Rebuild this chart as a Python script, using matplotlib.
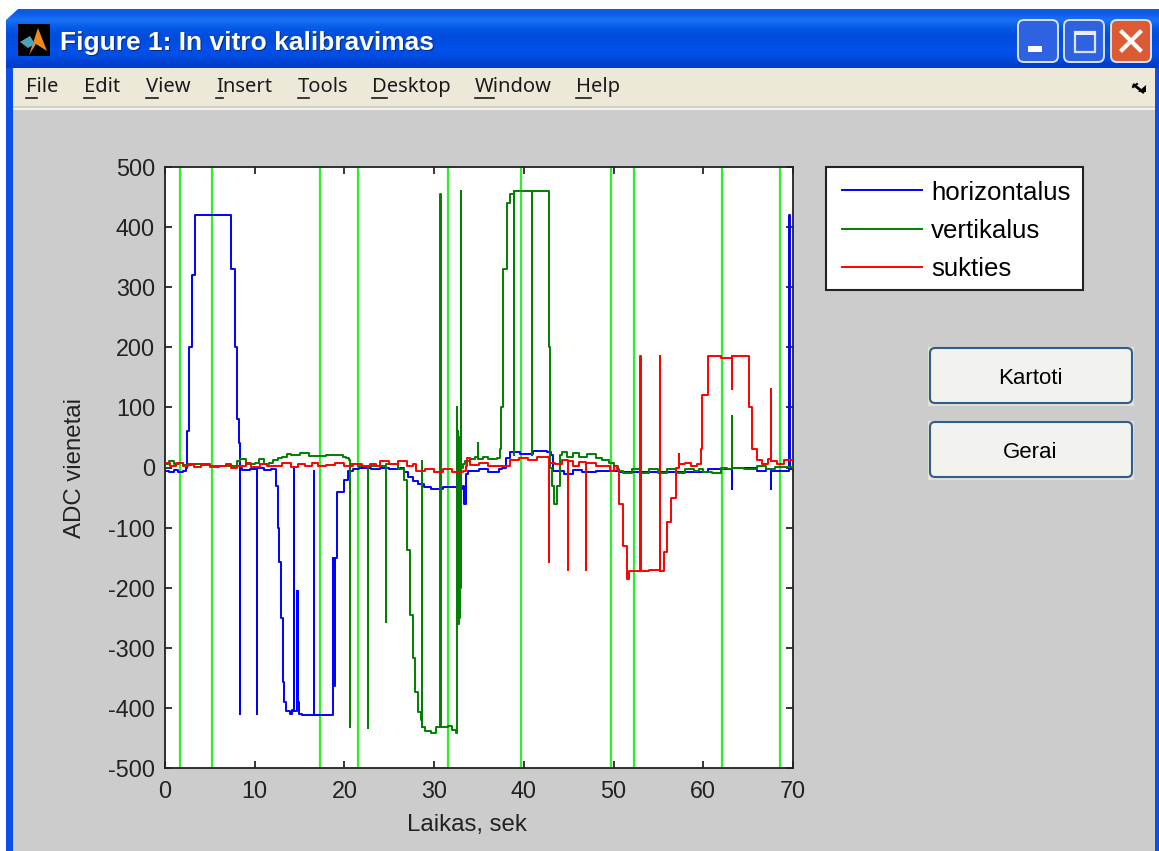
import numpy as np
import matplotlib
matplotlib.use("Agg")
import matplotlib.pyplot as plt
from matplotlib.patches import Rectangle, FancyBboxPatch, Polygon
from matplotlib.lines import Line2D

plt.rcParams["axes.unicode_minus"] = False
W, H = 1159, 851
# ---------------- data: (seconds, ADC units) ----------------
marker_times = [1.7, 5.2, 17.3, 21.5, 31.5, 39.7, 49.7, 52.3, 62.1, 68.6]
horizontal = [(0,-5),(0.5,-8),(1,-4),(1.5,-8),(2,-5),(2.2,-5),(2.3,0),(2.5,60),(2.7,200),(3.0,320),(3.3,420),(7.1,420),(7.4,330),(7.8,200),(8.0,80),(8.2,40),
    (8.4,5),(8.4,-410),(8.41,0),(8.6,-4),(9.5,-3),(10.3,-2),(10.3,-410),(10.31,0),(11,-4),(11.8,-2),(12.3,-2),(12.4,-30),(12.6,-100),(12.7,-157),(12.9,-250),
    (13.1,-357),(13.3,-390),(13.5,-405),(13.9,-410),(14.2,-403),(14.4,-405),(14.4,0),(14.41,-405),(14.7,-405),(14.7,-205),(14.75,-390),(14.8,-205),(14.85,-390),(14.9,-410),(15.3,-411),
    (16.6,-411),(16.6,-5),(16.61,-411),(18.6,-411),(18.7,-150),(18.75,-363),(18.8,-150),(18.85,-363),(18.9,-150),(19.1,-150),(19.2,-40),(19.9,-37),(20.0,-20),
    (20.4,-5),(20.9,-3),(21.6,-1),(23,-3),(24.0,-1),(25,-2),(26.2,0),(26.6,-8),(27.1,-15),(27.6,-22),(28.2,-28),(28.9,-33),(29.6,-35),(31,-33),(33.0,-35),(33.2,-30),
    (33.3,-60),(33.5,-10),(33.8,-5),(35,-2),(36,-7),(37.2,-2),(37.6,0),(38.0,15),(38.4,25),(39.6,22),(41,27),(42.6,25),(43.0,20),(43.3,-5),(44.5,-10),(45.5,-4),(46.5,-8),(48,-5),(50.0,-5),(50.6,-8),(59.4,-8),
    (60.5,-3),(63.2,-2),(63.2,-35),(63.21,0),(66,-5),(67,-2),(67.5,-5),(67.5,-35),(67.51,-5),(69.5,-3),(69.6,420),(69.62,-3),(70,-3)]
vertical = [(0,6),(0.5,10),(1,5),(1.6,7),(2,4),(3,5),(5,2),(6.5,3),(7.5,3),(8,10),(8.4,14),(9,6),(10,8),(10.5,14),(11,6),(11.6,8),(12,12),(12.6,16),(13,17),(13.6,22),(14,20),(15,24),(16,19),(18,20),(19.8,18),(20.2,15),(20.5,12),(20.6,10),(20.6,-432),(20.61,5),
    (21.5,2),(22.6,0),(22.6,-433),(22.61,2),(24.6,3),(24.6,-257),(24.61,5),(26,-3),(26.6,-20),(27,-137),(27.3,-245),(27.6,-317),(27.9,-374),
    (28.2,-406),(28.5,-420),(28.6,-432),(28.6,10),(28.61,-432),(29,-438),(29.6,-441),(30.2,-432),(30.7,-432),(30.7,455),(30.71,-432),
    (31.5,-430),(32,-436),(32.4,-441),(32.5,-300),(32.55,-260),(32.55,100),(32.6,-260),(32.65,60),(32.7,-260),(32.75,50),(32.8,-250),(32.85,0),(32.9,-200),(33,460),(33.01,0),(33.2,5),(33.4,10),
    (34,14),(34.6,18),(34.9,14),(34.9,40),(34.91,14),(35.5,18),(36,14),(37,15),(37.3,30),(37.5,100),(37.7,330),(38.1,440),(38.5,455),(38.9,460),(38.9,20),(38.91,460),
    (40.9,460),(40.9,20),(40.91,460),(42.5,460),(42.8,200),(42.9,0),(43.1,-30),(43.4,-60),(43.7,-30),(44.0,20),(44.2,25),(44.8,18),(45.5,24),(46.2,18),(47,22),(48,16),(48.7,12),
    (49.5,8),(50.1,2),(50.5,-5),(51,-9),(52,-3),(53,-9),(54,-3),(55,-9),(56,-3),(57,-9),(58,-3),(59,-5),(59.5,-3),(60,-7),(61,-9),(62,0),(62.6,-3),(63.2,0),(63.2,86),(63.21,0),(64.5,-3),(66,2),(67,-3),(68,1),(70,0)]
rotation = [(0,8),(0.6,3),(1.2,7),(2,3),(2.6,6),(3.2,1),(4,4),(5,1),(6,2),(6.8,5),(7.4,0),(8,3),(9,7),(9.6,1),(10.6,5),(11.4,2),(12,3),(13,7),(14,1),(14.8,5),(15.6,3),(16.4,7),(17,2),(18,4),(19,8),(20,2),(21,5),(22,2),(22.8,6),(23.5,3),(24,10),(25,5),(26,10),(27,3),(27.6,6),(28,-5),(29,-2),(30,-7),(31,-3),(32,-7),(33.2,-5),(33.5,2),(33.7,15),(34,4),(35,8),(36,2),(37.5,3),(38.5,12),(39.5,16),(40.5,12),(41.5,17),
    (42.8,15),(42.8,-158),(42.81,8),(43.5,6),(44.2,12),(44.9,6),(44.9,-170),(44.91,10),(45.5,3),(46.2,9),(46.9,6),(46.9,-170),(46.91,8),(48,2),(49,3),(49.6,-6),(50.1,3),(50.4,-3),(50.6,-60),(51,-130),
    (51.5,-185),(51.7,-172),(53,-172),(53,185),(53.01,-172),(54,-170),(55.2,-172),(55.2,185),(55.21,-172),(55.6,-140),(56,-90),(56.4,-50),(57,0),(57.3,5),
    (57.3,22),(57.31,5),(58,8),(58.6,3),(59.3,5),(59.7,30),(59.9,120),(60.5,185),(62,183),(63.2,185),(63.2,130),(63.21,185),(64.8,185),(65.1,100),(65.4,30),(66,12),(66.6,5),
    (67.2,14),(67.5,10),(67.5,130),(67.51,10),(68.2,6),(69,12),(70,10)]
series_names = ["horizontalus", "vertikalus", "sukties"]
x_ticks = [0, 10, 20, 30, 40, 50, 60, 70]
y_ticks = [-500, -400, -300, -200, -100, 0, 100, 200, 300, 400, 500]
menu_items = [("File",26), ("Edit",84), ("View",146), ("Insert",216), ("Tools",298), ("Desktop",372), ("Window",475), ("Help",576)]

fig = plt.figure(figsize=(W/100, H/100), dpi=100, facecolor="white")

# ---------------- window chrome, in pixel coordinates ----------------
bg = fig.add_axes([0, 0, 1, 1], zorder=0)
bg.set_xlim(0, W); bg.set_ylim(H, 0); bg.axis("off")
bg.add_patch(Rectangle((6, 10), W-6, H-10, fc="#0A50E6", ec="none"))
grad = np.array([[0.05,0.35,0.90],[0.10,0.45,0.96],[0.02,0.36,0.90],[0,0.30,0.87],[0,0.30,0.88],[0,0.32,0.92],[0,0.30,0.88],[0,0.24,0.80]])
bg.imshow(grad[:, None, :], extent=(6, W, 68, 9), aspect="auto", interpolation="bilinear", zorder=1)
bg.set_xlim(0, W); bg.set_ylim(H, 0)
bg.add_patch(Polygon([(6,9),(18,9),(6,20)], fc="white", ec="none", zorder=2))
bg.add_patch(Rectangle((13, 68), 1142, 38, fc="#ECE9D8", ec="none", zorder=2))
bg.add_patch(Rectangle((13, 106), 1142, 2, fc="#D6D2BD", ec="none", zorder=2))
bg.add_patch(Rectangle((13, 108), 1142, 2, fc="#F4F4EE", ec="none", zorder=2))
bg.add_patch(Rectangle((13, 110), 1142, H-110, fc="#CCCCCC", ec="none", zorder=2))
bg.add_patch(Rectangle((18, 24), 32, 32, fc="black", ec="none", zorder=3))
bg.add_patch(Polygon([(38,28),(47,51),(36,44),(29,55)], fc="#F08A1C", ec="none", zorder=4))
bg.add_patch(Polygon([(20,42),(30,36),(35,44),(28,48)], fc="#4FA3B8", ec="none", zorder=4))
bg.text(61, 44, "Figure 1: In vitro kalibravimas", color="#0A2A80", fontsize=19, fontweight="bold",
        family="Liberation Sans", va="center", ha="left", zorder=5)
bg.text(60, 43, "Figure 1: In vitro kalibravimas", color="white", fontsize=19, fontweight="bold",
        family="Liberation Sans", va="center", ha="left", zorder=5)
for x0, col in ((1018,"#2F62E0"), (1064,"#2F62E0"), (1111,"#DC5A34")):
    bg.add_patch(FancyBboxPatch((x0+3, 23), 34, 36, boxstyle="round,pad=3,rounding_size=6", fc=col, ec="#D8E4FA", lw=1.4, zorder=4))
bg.add_patch(Rectangle((1028, 46), 14, 6, fc="white", ec="none", zorder=5))
bg.add_patch(Rectangle((1075, 32), 20, 20, fc="none", ec="#D8E4FA", lw=1.6, zorder=5))
bg.add_patch(Rectangle((1075, 31), 20, 4, fc="#E8EEFB", ec="none", zorder=5))
bg.add_line(Line2D([1122,1140],[32,50], color="white", lw=3, zorder=5))
bg.add_line(Line2D([1122,1140],[50,32], color="white", lw=3, zorder=5))
bg.add_line(Line2D([1134,1143],[85,92], color="black", lw=2, zorder=5))
bg.add_patch(Polygon([(1138,92),(1146,92),(1146,85)], fc="black", ec="none", zorder=5))
bg.add_line(Line2D([1133,1137],[87,84], color="black", lw=1.5, zorder=5))
fig.canvas.draw()
rend = fig.canvas.get_renderer()
for lab, x in menu_items:
    bg.text(x, 87, lab, fontsize=14.5, family="Noto Sans", color="#1a1a1a", va="center", ha="left", zorder=5)
    first = bg.text(x, 87, lab[0], fontsize=14.5, family="Noto Sans", alpha=0)
    w = first.get_window_extent(rend).width
    first.remove()
    bg.add_line(Line2D([x, x+w], [98, 98], color="#1a1a1a", lw=1.2, zorder=5))
for y0, lab in ((349, "Kartoti"), (423, "Gerai")):
    bg.add_patch(Rectangle((928, y0-2), 206, 59, fc="#E6E2CE", ec="none", zorder=3))
    bg.add_patch(FancyBboxPatch((933, y0+2), 196, 49, boxstyle="round,pad=3,rounding_size=5", fc="#F2F2EE", ec="#2C5F8E", lw=1.5, zorder=4))
    bg.text(1030, y0+29, lab, fontsize=16, family="Liberation Sans", color="black", ha="center", va="center", zorder=5)
# legend frame
bg.add_patch(Rectangle((826, 167), 257, 123, fc="white", ec="#222222", lw=1.5, zorder=3))

# ---------------- plot axes ----------------
L, R, T, B = 165, 793, 167, 768
ax = fig.add_axes([L/W, 1-B/H, (R-L)/W, (B-T)/H], zorder=2, facecolor="white")
for mt in marker_times:
    ax.axvline(mt, color="#2BF02B", lw=1.6, zorder=1)
lh, = ax.plot(*zip(*horizontal), color="#0000FF", lw=1.4, zorder=2, drawstyle="steps-post", label=series_names[0])
lv, = ax.plot(*zip(*vertical), color="#007F00", lw=1.4, zorder=3, drawstyle="steps-post", label=series_names[1])
lr, = ax.plot(*zip(*rotation), color="#FF0000", lw=1.4, zorder=4, drawstyle="steps-post", label=series_names[2])
ax.set_xlim(0, 70); ax.set_ylim(-500, 500)
ax.set_xticks(x_ticks); ax.set_yticks(y_ticks)
ax.tick_params(axis="both", direction="in", length=5, width=1.1, top=True, right=True, labelsize=16.8,
               labelcolor="#222222")
ax.tick_params(axis="y", pad=7.2)
ax.tick_params(axis="x", pad=9)
for lbl in ax.get_xticklabels() + ax.get_yticklabels():
    lbl.set_family("Liberation Sans")
for s in ax.spines.values():
    s.set_linewidth(1.3); s.set_color("#222222")
ax.set_xlabel("Laikas, sek", fontsize=17.3, family="Liberation Sans", color="#222222", va="center")
ax.xaxis.set_label_coords((467-L)/(R-L), -(825-B)/(B-T))
ax.set_ylabel("ADC vienetai", fontsize=17.3, family="Liberation Sans", color="#222222", va="center")
ax.yaxis.set_label_coords((75-L)/(R-L), 0.5)

# ---------------- legend ----------------
lg = ax.legend(handles=[lh, lv, lr], loc="upper left", bbox_to_anchor=(826/W, 1-288/H, 257/W, 123/H),
               bbox_transform=fig.transFigure, mode="expand", borderaxespad=0, frameon=False,
               handlelength=3.1, handletextpad=0.36, labelspacing=0.55,
               borderpad=0.6, prop={"family":"Liberation Sans","size":18.6})
for h in lg.get_lines():
    h.set_drawstyle("default")
fig.savefig("out.png", dpi=100, facecolor="white")
